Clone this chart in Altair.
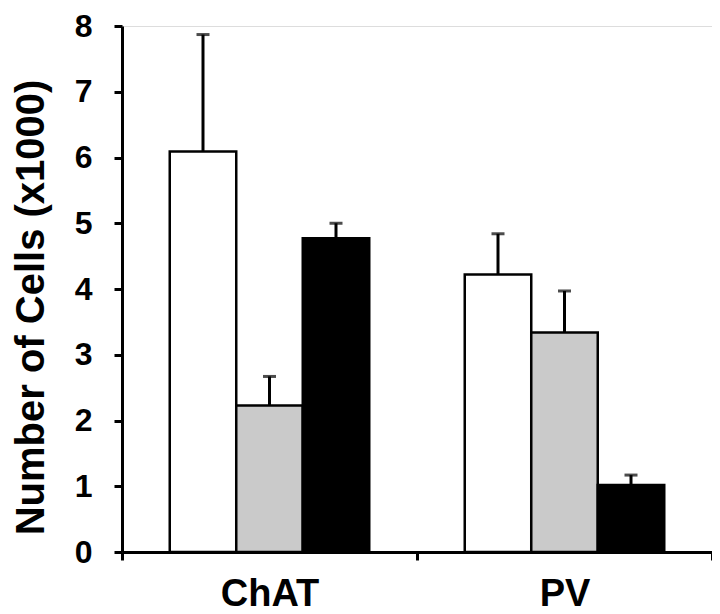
import altair as alt
import pandas as pd

categories = ["ChAT", "PV"]
series = ["Group 1", "Group 2", "Group 3"]
series_colors = ["#ffffff", "#cacaca", "#000000"]
chat_means = [6.09, 2.23, 4.77]
chat_errors = [1.78, 0.44, 0.23]
pv_means = [4.22, 3.34, 1.02]
pv_errors = [0.62, 0.63, 0.15]
y_ticks = [0, 1, 2, 3, 4, 5, 6, 7, 8]

rows = []
for cat, means, errs in [("ChAT", chat_means, chat_errors), ("PV", pv_means, pv_errors)]:
    for s, m, e in zip(series, means, errs):
        rows.append({"cat": cat, "series": s, "mean": m, "upper": m + e})
df = pd.DataFrame(rows)

FONT = "Liberation Sans"

x_enc = alt.X(
    "cat:N",
    sort=categories,
    scale=alt.Scale(paddingInner=0, paddingOuter=0),
    axis=alt.Axis(
        title=None,
        labelAngle=0,
        labelFont=FONT,
        labelFontSize=38,
        labelFontWeight="bold",
        labelColor="black",
        labelPadding=15,
        tickBand="extent",
        tickSize=8,
        tickWidth=3,
        tickColor="black",
        domainColor="black",
        domainWidth=3,
    ),
)
xoff_enc = alt.XOffset(
    "series:N",
    sort=series,
    scale=alt.Scale(domain=series, paddingInner=0, paddingOuter=0.718),
)
y_scale = alt.Scale(domain=[0, 8], nice=False)
y_axis = alt.Axis(
    title="Number of Cells (x1000)",
    titleFont=FONT,
    titleFontSize=40,
    titleFontWeight="bold",
    titleColor="black",
    titlePadding=23,
    titleY=281,
    values=y_ticks,
    format="d",
    labelFont=FONT,
    labelFontSize=32,
    labelFontWeight="bold",
    labelColor="black",
    labelPadding=22,
    tickSize=8,
    tickWidth=3,
    tickColor="black",
    domainColor="black",
    domainWidth=3,
    grid=False,
)

bars = alt.Chart(df).mark_bar(stroke="black", strokeWidth=2.5).encode(
    x=x_enc,
    xOffset=xoff_enc,
    y=alt.Y("mean:Q", scale=y_scale, axis=y_axis),
    fill=alt.Fill("series:N", scale=alt.Scale(domain=series, range=series_colors), legend=None),
)

err = alt.Chart(df).mark_rule(color="black", strokeWidth=3).encode(
    x=x_enc,
    xOffset=xoff_enc,
    y=alt.Y("mean:Q", scale=y_scale),
    y2="upper:Q",
)

caps = alt.Chart(df).mark_tick(color="black", thickness=3, size=13).encode(
    x=x_enc,
    xOffset=xoff_enc,
    y=alt.Y("upper:Q", scale=y_scale),
)

chart = (
    alt.layer(err, bars, caps)
    .properties(
        width=590,
        height=526,
        autosize=alt.AutoSizeParams(type="none"),
        padding={"left": 114, "top": 18, "right": 0, "bottom": 62},
    )
    .configure_view(stroke=None)
    .configure(background="white")
)

chart.save("out.html", embed_options={"renderer": "svg", "actions": False})
